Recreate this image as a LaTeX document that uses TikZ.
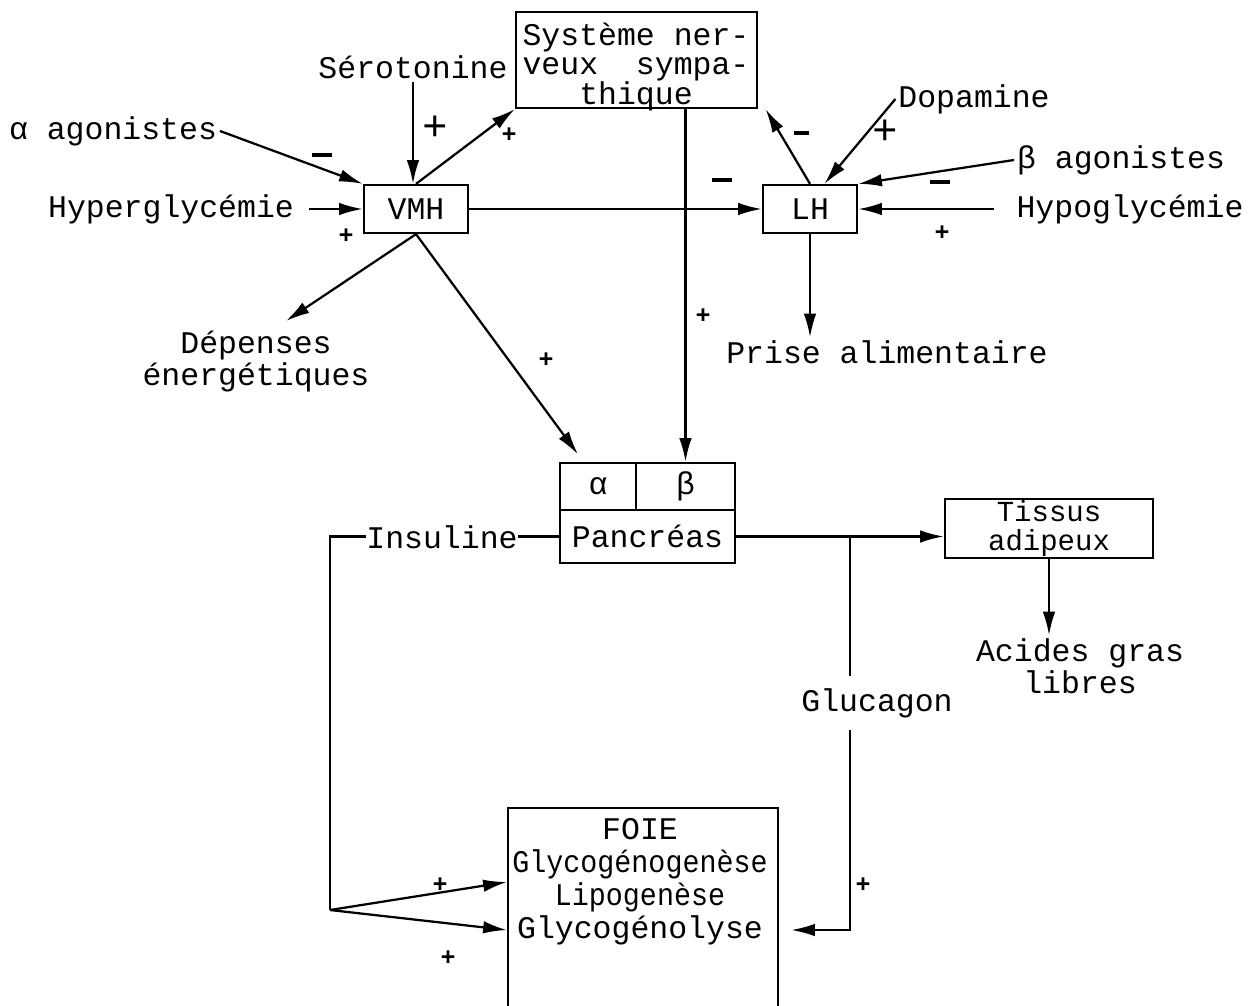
\documentclass[tikz,border=0pt]{standalone}
\usepackage{fontspec}
\setmainfont{Liberation Mono}
\newfontfamily\condmono[FakeStretch=0.9]{Liberation Mono}
\usepackage{tikz}
\usetikzlibrary{arrows.meta, positioning, calc}

\begin{document}
\begin{tikzpicture}[
        x=0.4pt, y=-0.4pt,
        font=\fontsize{12.6pt}{12.8pt}\selectfont,
        box/.style={rectangle, draw, line width=0.9pt, inner sep=0pt, text centered},
        txt/.style={inner sep=1pt, align=center},
        arr/.style={-{Latex[length=9.5pt, width=5pt]}, line width=0.9pt},
        link/.style={line width=0.9pt},
        plus/.style={inner sep=0pt, font=\bfseries\fontsize{10pt}{10pt}\selectfont},
        bigplus/.style={inner sep=0pt, font=\fontsize{17pt}{17pt}\selectfont},
        minus/.style={inner sep=0pt}
    ]
        \clip (0,0) rectangle (1251,1005);
        \useasboundingbox (0,0) rectangle (1251,1005);

        % Nodes
        \node (sns) [box, minimum width=96.4pt, minimum height=38.4pt] at (636.5,60) {};
        \node (snstxt) [txt, font=\fontsize{12.6pt}{11.8pt}\selectfont] at (636,67) {Système ner-\\veux\ \ sympa-\\thique};
        \node (vmh) [box, minimum width=41.6pt, minimum height=19.2pt] at (416,209) {VMH};
        \node (lh) [box, minimum width=37.6pt, minimum height=19.2pt] at (810,209) {LH};

        \node (sero) [txt] at (413,67) {Sérotonine};
        \node (aago) [txt] at (113,131) {α agonistes};
        \node (hyper) [txt] at (171,209) {Hyperglycémie};
        \node (dopa) [txt] at (974,99) {Dopamine};
        \node (bago) [txt] at (1121,160) {β agonistes};
        \node (hypo) [txt] at (1130,209) {Hypoglycémie};
        \node (prise) [txt] at (887,352) {Prise alimentaire};
        \node (dep) [txt] at (256,362) {Dépenses\\énergétiques};

        \node (palpha) [box, minimum width=30.4pt, minimum height=18.8pt] at (598,486.5) {α};
        \node (pbeta) [box, minimum width=39.6pt, minimum height=18.8pt] at (685.5,486.5) {β};
        \node (panc) [box, minimum width=70pt, minimum height=21.2pt] at (647.5,536.5) {Pancréas};

        \node (tissus) [box, align=center, minimum width=83.2pt, minimum height=23.6pt, font=\fontsize{11.6pt}{11.6pt}\selectfont] at (1049,528.5) {Tissus\\adipeux};
        \node (acides) [txt] at (1080,666) {Acides gras\\libres};

        \node (foie) [box, minimum width=108pt, minimum height=81.6pt] at (643,910) {};
        \node (foietxt) [txt, font=\fontsize{12.6pt}{13.2pt}\selectfont] at (640,882) {FOIE\\{\condmono Glycogénogenèse}\\{\condmono Lipogenèse}\\Glycogénolyse};

        \coordinate (ins) at (330,910);
        \coordinate (gsplit) at (850,536.5);
        \coordinate (glufoie) at ([xshift=4.8pt, yshift=-8pt]foie.east);

        % Arrows
        \draw [arr] (sero) -- (sero |- vmh.north);
        \draw [arr] (aago.east) -- (vmh.north west);
        \draw [arr] ([xshift=5pt]hyper.east) -- (vmh.west);
        \draw [arr] (vmh.north) -- (sns.south west);
        \draw [arr] (vmh.east) -- (lh.west);

        \draw [arr] (pbeta.north |- sns.south) -- (pbeta.north);
        \draw [arr] (lh.north) -- ([xshift=3pt]sns.south east);
        \draw [arr] (dopa.west) -- ($(lh.north)!0.3!(lh.north east)$);
        \draw [arr] (bago.west) -- (lh.north east);
        \draw [arr] ([xshift=-8pt]hypo.west) -- (lh.east);
        \draw [arr] (lh.south) -- (lh.south |- prise.north);

        \draw [arr] (vmh.south) -- ([xshift=12pt, yshift=3pt]dep.north);
        \draw [arr] (vmh.south) -- ([xshift=-8pt, yshift=3pt]palpha.north);

        \draw [link] (panc.west) -- (ins |- panc.west) -- (ins);
        \draw [arr] (ins) -- ([yshift=11.2pt]foie.west);
        \draw [arr] (ins) -- ([yshift=-8pt]foie.west);
        \node (insuline) [txt, fill=white, inner sep=0pt] at (442,537) {Insuline};

        \draw [arr] (panc.east) -- (panc.east -| tissus.west);
        \draw [arr] (gsplit) -- (gsplit |- glufoie) -- (glufoie);
        \node (glucagon) [txt, fill=white, inner ysep=5pt] at (877,703) {Glucagon};

        \draw [arr] (tissus.south) -- (tissus.south |- acides.north);

        % Signs
        \node (s1) [bigplus] at (435,128) {+};
        \node (s2) [minus] at (322,155) {\rule{8pt}{1.8pt}};
        \node (s3) [plus] at (509,135) {+};
        \node (s4) [plus] at (346,236) {+};
        \node (s5) [minus] at (722,180) {\rule{8pt}{1.8pt}};
        \node (s6) [plus] at (703,316) {+};
        \node (s7) [minus] at (801,133) {\rule{6pt}{1.6pt}};
        \node (s8) [bigplus] at (885,132) {+};
        \node (s9) [minus] at (940,182) {\rule{8pt}{1.8pt}};
        \node (s10) [plus] at (942,233) {+};
        \node (s11) [plus] at (546,360) {+};
        \node (s12) [plus] at (440,885) {+};
        \node (s13) [plus] at (448,958) {+};
        \node (s14) [plus] at (863,885) {+};
    \end{tikzpicture}
\end{document}
